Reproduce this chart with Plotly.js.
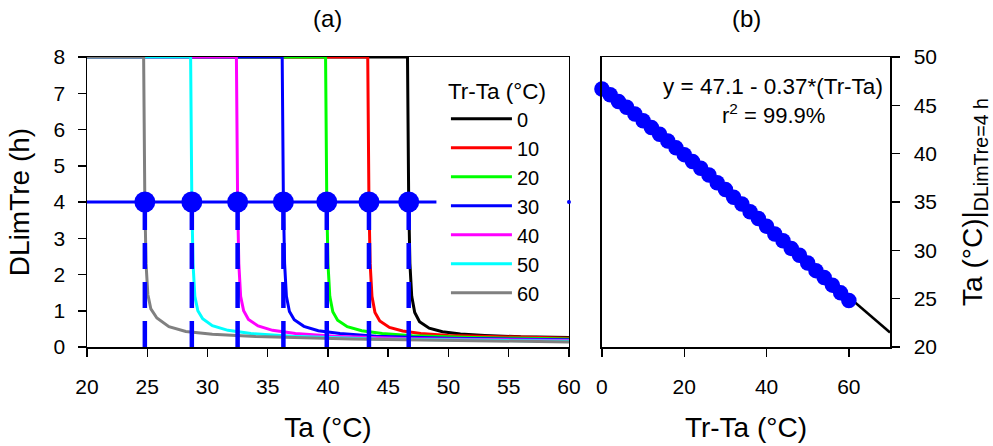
<!DOCTYPE html>
<html><head><meta charset="utf-8">
<script src="https://cdn.plot.ly/plotly-3.0.1.min.js"></script>
<style>html,body{margin:0;padding:0;background:#fff}</style>
</head><body><div id="chart" style="width:993px;height:446px"></div>
<script>
// ---- Panel (a): DLimTre (h) vs Ta (°C), one curve per Tr-Ta ----
const trTaLabels = ['0', '10', '20', '30', '40', '50', '60'];

const ta_0  = [20, 46.6, 46.7, 46.8, 46.95, 47.2, 47.6, 48.4, 49.5, 51.0, 53.0, 56.0, 60];
const dl_0  = [8, 8, 4, 2.3, 1.4, 0.95, 0.70, 0.52, 0.42, 0.36, 0.32, 0.28, 0.26];
const ta_10 = [20, 43.3, 43.4, 43.5, 43.65, 43.9, 44.3, 45.1, 46.2, 47.7, 50.0, 54.0, 60];
const dl_10 = [8, 8, 4, 2.3, 1.4, 0.95, 0.72, 0.54, 0.44, 0.37, 0.32, 0.28, 0.24];
const ta_20 = [20, 39.8, 39.9, 40.0, 40.15, 40.4, 40.8, 41.6, 42.8, 44.5, 47.0, 52.0, 60];
const dl_20 = [8, 8, 4, 2.3, 1.4, 0.97, 0.74, 0.56, 0.45, 0.37, 0.31, 0.26, 0.22];
const ta_30 = [20, 36.2, 36.3, 36.4, 36.55, 36.8, 37.2, 38.0, 39.2, 41.0, 44.0, 50.0, 60];
const dl_30 = [8, 8, 4, 2.3, 1.4, 0.98, 0.75, 0.57, 0.45, 0.37, 0.30, 0.24, 0.20];
const ta_40 = [20, 32.4, 32.5, 32.6, 32.75, 33.0, 33.4, 34.2, 35.4, 37.3, 40.5, 47.0, 60];
const dl_40 = [8, 8, 4, 2.3, 1.4, 1.0, 0.76, 0.58, 0.46, 0.37, 0.30, 0.23, 0.18];
const ta_50 = [20, 28.6, 28.7, 28.8, 28.95, 29.2, 29.6, 30.4, 31.7, 33.6, 37.0, 44.0, 60];
const dl_50 = [8, 8, 4, 2.3, 1.4, 1.0, 0.78, 0.59, 0.46, 0.37, 0.30, 0.22, 0.16];
const ta_60 = [20, 24.7, 24.8, 24.9, 25.05, 25.3, 25.8, 26.8, 28.2, 30.4, 34.0, 42.0, 60];
const dl_60 = [8, 8, 4, 2.3, 1.45, 1.05, 0.80, 0.56, 0.43, 0.35, 0.29, 0.22, 0.14];

const curveTa = [ta_0, ta_10, ta_20, ta_30, ta_40, ta_50, ta_60];
const curveDl = [dl_0, dl_10, dl_20, dl_30, dl_40, dl_50, dl_60];

// Ta at which DLimTre = 4 h (intersections in panel a)
const ta4Cross = [24.8, 28.7, 32.5, 36.3, 39.9, 43.4, 46.7];
const dlimLevel = [4];
const hLineTa = [20, 49];
const edgeDotTa = [60];

// ---- Panel (b): Ta|DLimTre=4h vs Tr-Ta ----
const trTaB = [0, 2, 4, 6, 8, 10, 12, 14, 16, 18, 20, 22, 24, 26, 28, 30,
               32, 34, 36, 38, 40, 42, 44, 46, 48, 50, 52, 54, 56, 58, 60];
const ta4B  = [46.7, 46.1, 45.4, 44.8, 44.1, 43.4, 42.7, 42.0, 41.3, 40.6, 39.9,
               39.2, 38.5, 37.8, 37.0, 36.3, 35.5, 34.8, 34.0, 33.3, 32.5,
               31.7, 31.0, 30.2, 29.5, 28.7, 27.9, 27.2, 26.4, 25.6, 24.8];
const fitX = [0, 70];
const fitY = [47.1, 21.5];

// ---- styles ----
const curveColors = ['#000000', '#ff0000', '#00ff00', '#0000ff', '#ff00ff', '#00ffff', '#808080'];
const BLUE = '#0000ff';
const FONT = 'Liberation Sans, Arial, Helvetica, sans-serif';

const traces = [];
curveTa.forEach((xs, i) => {
  traces.push({
    type: 'scatter', mode: 'lines', x: xs, y: curveDl[i],
    name: trTaLabels[i], legendgroup: 'g' + i,
    line: {color: curveColors[i], width: 3},
    xaxis: 'x', yaxis: 'y', cliponaxis: false, hoverinfo: 'skip'
  });
});

// vertical dashed lines from DLimTre = 0 up to 4 at each crossing
const vx = [], vy = [];
ta4Cross.forEach(t => { vx.push(t, t, null); vy.push(0, dlimLevel[0], null); });
traces.push({
  type: 'scatter', mode: 'lines', x: vx, y: vy, showlegend: false,
  line: {color: BLUE, width: 4.5, dash: '26px,13px'}, xaxis: 'x', yaxis: 'y', hoverinfo: 'skip'
});
// horizontal line at 4 h
traces.push({
  type: 'scatter', mode: 'lines', x: hLineTa, y: hLineTa.map(() => dlimLevel[0]), showlegend: false,
  line: {color: BLUE, width: 3}, xaxis: 'x', yaxis: 'y', hoverinfo: 'skip'
});
traces.push({
  type: 'scatter', mode: 'markers', x: edgeDotTa, y: edgeDotTa.map(() => dlimLevel[0]), showlegend: false,
  marker: {color: BLUE, size: 4}, xaxis: 'x', yaxis: 'y', cliponaxis: false, hoverinfo: 'skip'
});
// intersection markers
traces.push({
  type: 'scatter', mode: 'markers', x: ta4Cross, y: ta4Cross.map(() => dlimLevel[0]), showlegend: false,
  marker: {color: BLUE, size: 21}, xaxis: 'x', yaxis: 'y', hoverinfo: 'skip'
});

// panel b
traces.push({
  type: 'scatter', mode: 'lines', x: fitX, y: fitY, showlegend: false,
  line: {color: '#000', width: 2.5}, xaxis: 'x2', yaxis: 'y2', hoverinfo: 'skip'
});
traces.push({
  type: 'scatter', mode: 'markers', x: trTaB, y: ta4B, showlegend: false,
  marker: {color: BLUE, size: 15.5}, xaxis: 'x2', yaxis: 'y2', cliponaxis: false, hoverinfo: 'skip'
});

const axisCommon = {
  showline: true, linecolor: '#000', linewidth: 1.5, mirror: true,
  ticks: 'outside', ticklen: 8, tickwidth: 1.5, tickcolor: '#000',
  showgrid: false, zeroline: false, fixedrange: true,
  tickfont: {family: FONT, size: 21, color: '#000'}
};

const layout = {
  width: 993, height: 446,
  margin: {l: 87, r: 103, t: 57, b: 99},
  paper_bgcolor: '#fff', plot_bgcolor: '#fff',
  font: {family: FONT, size: 21, color: '#000'},
  showlegend: true,
  legend: {
    x: 0.447, y: 0.955, xanchor: 'left', yanchor: 'top',
    bgcolor: 'rgba(0,0,0,0)', borderwidth: 0,
    font: {family: FONT, size: 20, color: '#000'},
    title: {text: 'Tr-Ta (°C)', side: 'top', font: {family: FONT, size: 22.5}},
    traceorder: 'normal', itemwidth: 61
  },
  xaxis: Object.assign({}, axisCommon, {
    domain: [0, 0.6002], range: [20, 60], tick0: 20, dtick: 5, anchor: 'y',
    ticklabelstandoff: 12, layer: 'below traces',
    title: {text: 'Ta (°C)', font: {family: FONT, size: 28}, standoff: 20}
  }),
  yaxis: Object.assign({}, axisCommon, {
    domain: [0, 1], range: [0, 8], tick0: 0, dtick: 1, anchor: 'x',
    ticklabelstandoff: 8, layer: 'below traces',
    title: {text: 'DLimTre (h)', font: {family: FONT, size: 28}, standoff: 16}
  }),
  xaxis2: Object.assign({}, axisCommon, {
    domain: [0.6413, 1], range: [0, 70], tick0: 0, dtick: 20, anchor: 'y2',
    ticklabelstandoff: 12,
    title: {text: 'Tr-Ta (°C)', font: {family: FONT, size: 28}, standoff: 20}
  }),
  yaxis2: Object.assign({}, axisCommon, {
    domain: [0, 1], range: [20, 50], tick0: 20, dtick: 5, anchor: 'x2', side: 'right',
    ticklabelstandoff: 10,
    title: {text: 'Ta (°C)|<sub>DLimTre=4 h</sub>', font: {family: FONT, size: 28}, standoff: 26}
  }),
  annotations: [
    {text: '(a)', xref: 'paper', yref: 'paper', x: 0.300, y: 1.134, showarrow: false,
     xanchor: 'center', yanchor: 'middle', font: {family: FONT, size: 24}},
    {text: '(b)', xref: 'paper', yref: 'paper', x: 0.8207, y: 1.134, showarrow: false,
     xanchor: 'center', yanchor: 'middle', font: {family: FONT, size: 24}},
    {text: 'y = 47.1 - 0.37*(Tr-Ta)', xref: 'x2', yref: 'y2', x: 41.6, y: 46.9, showarrow: false,
     xanchor: 'center', yanchor: 'middle', font: {family: FONT, size: 22.5}},
    {text: 'r<sup>2</sup> = 99.9%', xref: 'x2', yref: 'y2', x: 41.6, y: 44.1, showarrow: false,
     xanchor: 'center', yanchor: 'middle', font: {family: FONT, size: 22}}
  ]
};

Plotly.newPlot('chart', traces, layout, {displayModeBar: false, staticPlot: true});
</script>
</body></html>
